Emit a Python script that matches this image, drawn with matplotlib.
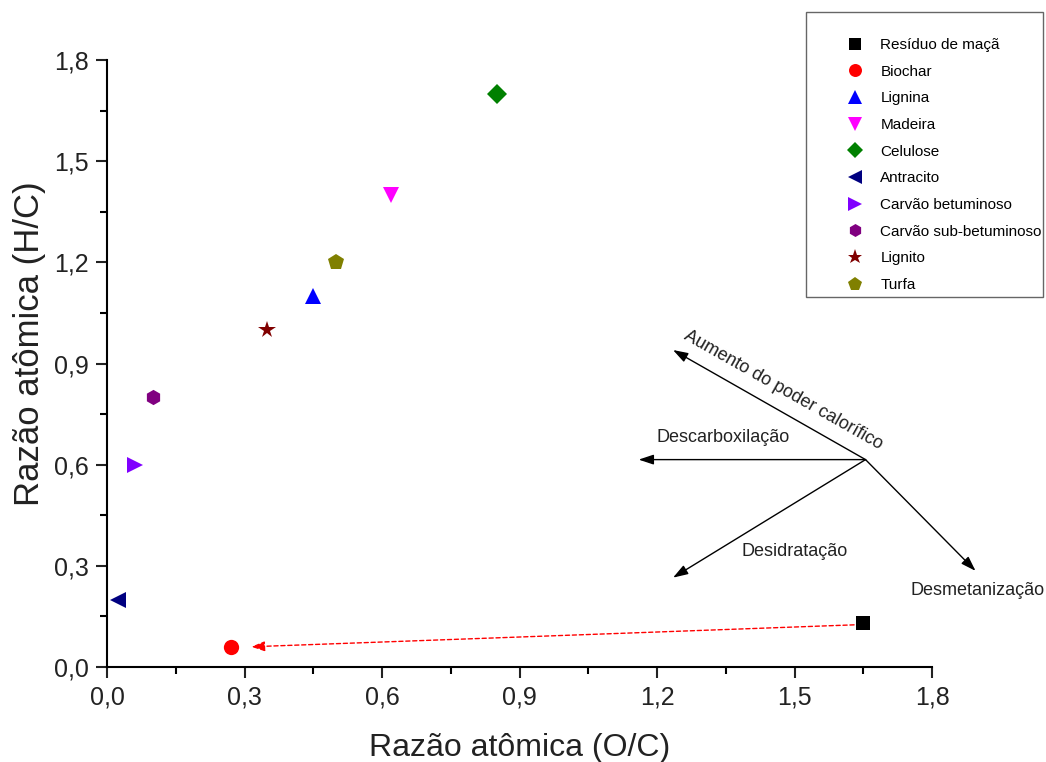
import matplotlib
matplotlib.use("Agg")
import matplotlib.pyplot as plt
from matplotlib.patches import Rectangle
from matplotlib.ticker import MultipleLocator, FuncFormatter

plt.rcParams['font.family'] = ['Liberation Sans', 'DejaVu Sans']

# Van Krevelen data: atomic ratios O/C and H/C
labels = ["Resíduo de maçã", "Biochar", "Lignina", "Madeira", "Celulose",
          "Antracito", "Carvão betuminoso", "Carvão sub-betuminoso", "Lignito", "Turfa"]
oc = [1.65, 0.27, 0.45, 0.62, 0.85, 0.025, 0.06, 0.10, 0.35, 0.50]
hc = [0.13, 0.06, 1.10, 1.40, 1.70, 0.20, 0.60, 0.80, 1.00, 1.20]
markers = ["s", "o", "^", "v", "D", "<", ">", "h", "*", "p"]
colors = ["#000000", "#FF0000", "#0000FF", "#FF00FF", "#008000",
          "#000080", "#8000FF", "#800080", "#800000", "#808000"]
sizes = [10, 11, 12, 12, 10, 12, 12, 11, 13, 12]

# Process arrows: origin and end points, with label positions
origin = (1.655, 0.615)
arrow_ends = [(1.235, 0.940), (1.16, 0.615), (1.235, 0.265), (1.895, 0.285)]
arrow_texts = ["Aumento do poder calorífico", "Descarboxilação", "Desidratação", "Desmetanização"]
text_pos = [(1.475, 0.82), (1.345, 0.682), (1.50, 0.342), (1.90, 0.228)]
text_rot = [-29.5, 0, 0, 0]

W, H = 1046, 762
fig = plt.figure(figsize=(W / 100, H / 100), dpi=100)
ax = fig.add_axes([107 / W, 1 - 667 / H, (932 - 107) / W, (667 - 60) / H])

handles = []
for x, y, m, c, s, lab in zip(oc, hc, markers, colors, sizes, labels):
    h, = ax.plot([x], [y], linestyle="none", marker=m, color=c, markersize=s,
                 markeredgewidth=0, label=lab, clip_on=False, zorder=3)
    handles.append(h)

# Red dashed arrow from apple residue to biochar
ax.annotate("", xy=(0.315, 0.06), xytext=(1.63, 0.125),
            arrowprops=dict(arrowstyle="-|>,head_length=0.8,head_width=0.3",
                            linestyle=(0, (3, 2)), color="#FF0000", lw=1.0,
                            shrinkA=0, shrinkB=0))

for end, txt, pos, rot in zip(arrow_ends, arrow_texts, text_pos, text_rot):
    ax.annotate("", xy=end, xytext=origin, annotation_clip=False,
                arrowprops=dict(arrowstyle="-|>,head_length=0.9,head_width=0.3",
                                color="#000000", lw=1.0, shrinkA=0, shrinkB=0))
    ax.text(pos[0], pos[1], txt, rotation=rot, ha="center", va="center",
            fontsize=13, color="#222222", rotation_mode="anchor", clip_on=False)

ax.set_xlim(0, 1.8)
ax.set_ylim(0, 1.8)
ax.spines["top"].set_visible(False)
ax.spines["right"].set_visible(False)
for sp in ("left", "bottom"):
    ax.spines[sp].set_linewidth(1.5)

comma = FuncFormatter(lambda v, p: f"{v:.1f}".replace(".", ","))
ax.xaxis.set_major_locator(MultipleLocator(0.3))
ax.yaxis.set_major_locator(MultipleLocator(0.3))
ax.xaxis.set_minor_locator(MultipleLocator(0.15))
ax.yaxis.set_minor_locator(MultipleLocator(0.15))
ax.xaxis.set_major_formatter(comma)
ax.yaxis.set_major_formatter(comma)
ax.tick_params(which="major", direction="out", length=8, width=1.5, labelsize=18,
               colors="#222222", pad=5)
ax.tick_params(which="minor", direction="out", length=5, width=1.5)

ax.set_xlabel("Razão atômica (O/C)", fontsize=23, color="#222222")
ax.set_ylabel("Razão atômica (H/C)", fontsize=25, color="#222222")
ax.xaxis.set_label_coords(0.5, -0.108)
ax.yaxis.set_label_coords(-0.074, 0.532)

# Legend box drawn as a separate frame in figure pixels
fig.patches.append(Rectangle((806 / W, 1 - 297 / H), (1043 - 806) / W, (297 - 12) / H,
                             transform=fig.transFigure, facecolor="white",
                             edgecolor="#666666", linewidth=1.0, zorder=1))
leg = fig.legend(handles=handles, loc="upper left",
                 bbox_to_anchor=(846 / W, 1 - 38 / H),
                 fontsize=11, labelspacing=0.83, handlelength=1.2, handletextpad=1.05,
                 borderpad=0, borderaxespad=0, frameon=False, markerscale=0.85)
leg.set_zorder(2)

fig.savefig("out.png", dpi=100)
